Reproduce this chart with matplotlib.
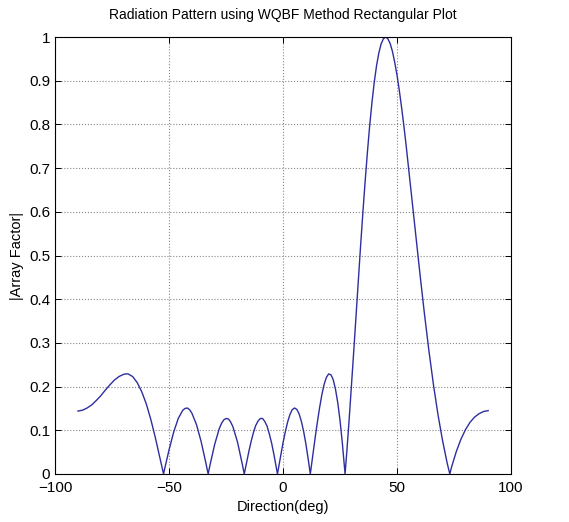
import numpy as np
import matplotlib.pyplot as plt

plt.rcParams['font.family'] = ['Liberation Sans', 'DejaVu Sans']

# direction (deg) and |array factor|
direction = [-90, -88, -86, -84, -82, -80, -78, -76, -74, -72, -70, -69, -68, -66, -64,
             -62, -60, -58, -56, -54, -52.46, -52, -50, -48, -46, -44, -43, -42, -41, -40,
             -38, -36, -34, -32.88, -32, -30, -28, -27, -26, -25, -24, -23, -22, -20, -18,
             -17.03, -16, -15, -14, -13, -12, -11, -10, -9, -8, -7, -6, -5, -4, -3, -2.46,
             -2, -1, 0, 1, 2, 3, 4, 5, 6, 7, 8, 9, 10, 11, 11.95,
             12, 13, 14, 15, 16, 17, 18, 19, 20, 21, 22, 23, 24, 25, 26, 27.2,
             28, 29, 30, 31, 32, 33, 34, 35, 36, 37, 38, 39, 40, 41, 42, 43,
             44, 45, 46, 47, 48, 49, 50, 51, 52, 53, 54, 55, 56, 57, 58, 60, 62, 64,
             66, 68, 70, 72, 73.17, 74, 76, 78, 80, 82, 84, 86, 88, 90]
array_factor = [0.144, 0.146, 0.151, 0.158, 0.168, 0.179, 0.192, 0.204, 0.215, 0.223,
                0.228, 0.229, 0.229, 0.223, 0.209, 0.188, 0.160, 0.124, 0.082, 0.036, 0.0,
                0.011, 0.056, 0.096, 0.127, 0.146, 0.150, 0.151, 0.147, 0.139,
                0.113, 0.075, 0.028, 0.0, 0.022, 0.068, 0.104, 0.116, 0.124, 0.127, 0.126,
                0.119, 0.108, 0.073, 0.025, 0.0, 0.027, 0.052, 0.075, 0.095, 0.111, 0.121,
                0.127, 0.127, 0.120, 0.109, 0.091, 0.070, 0.044, 0.016, 0.0,
                0.014, 0.043, 0.072, 0.097, 0.119, 0.136, 0.147, 0.151, 0.148, 0.138,
                0.121, 0.098, 0.069, 0.035, 0.0,
                0.002, 0.041, 0.080, 0.117, 0.151, 0.181, 0.205, 0.221, 0.229, 0.227,
                0.216, 0.194, 0.163, 0.122, 0.071, 0.0,
                0.053, 0.125, 0.201, 0.280, 0.361, 0.441, 0.521, 0.597, 0.669, 0.736,
                0.797, 0.850, 0.896, 0.934, 0.963, 0.984,
                0.996, 1.0, 0.996, 0.985, 0.967, 0.942, 0.913, 0.878, 0.839, 0.797,
                0.752, 0.704, 0.657, 0.607, 0.558, 0.461, 0.368, 0.282,
                0.204, 0.135, 0.076, 0.025, 0.0, 0.017, 0.051, 0.079, 0.101, 0.118,
                0.130, 0.138, 0.143, 0.145]

xticks = [-100, -50, 0, 50, 100]
yticks = np.round(np.arange(0, 1.01, 0.1), 1)
ytick_labels = ['0', '0.1', '0.2', '0.3', '0.4', '0.5', '0.6', '0.7', '0.8', '0.9', '1']

fig = plt.figure(figsize=(5.69, 5.22), dpi=100)
ax = fig.add_axes([0.097, 0.092, 0.801, 0.837])

ax.plot(direction, array_factor, color='#2e2e9e', lw=1.0)

ax.set_xlim(-100, 100)
ax.set_ylim(0, 1)
ax.set_xticks(xticks)
ax.set_yticks(yticks)
ax.set_yticklabels(ytick_labels)
ax.tick_params(direction='in', top=True, right=True, labelsize=11, length=4, width=0.7)
ax.tick_params(axis='x', pad=5)
ax.grid(True, linestyle=':', color='#888888', lw=0.8)
for s in ax.spines.values():
    s.set_linewidth(0.8)

ax.set_title('Radiation Pattern using WQBF Method Rectangular Plot', fontsize=10, pad=13)
ax.set_xlabel('Direction(deg)', fontsize=10.5, labelpad=4)
ax.set_ylabel('|Array Factor|', fontsize=10.5, labelpad=4)

fig.savefig('out.png', dpi=100)
